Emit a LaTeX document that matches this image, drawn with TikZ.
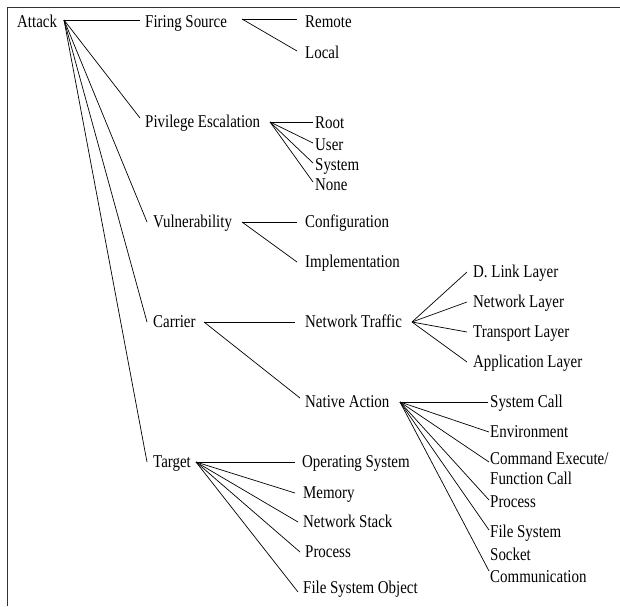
\documentclass[tikz,border=0pt]{standalone}
\usepackage{fontspec}
\setmainfont[FakeStretch=0.83]{Liberation Serif}
\begin{document}
\begin{tikzpicture}[x=1pt,y=-1pt,
  lbl/.style={anchor=base west,inner sep=0pt,font=\fontsize{18}{20}\selectfont},
  lbl2/.style={lbl,align=left},
  link/.style={line width=0.7pt,black},
  frame/.style={line width=1.3pt,black!80}]
\useasboundingbox (0,0) rectangle (620,606);
\draw[frame] (7.5,606) -- (7.5,7.5) -- (620,7.5);

% labels
\node[lbl] (attack) at (17,27) {Attack};
\node[lbl] (fs) at (145,27) {Firing Source};
\node[lbl] (remote) at (305,27) {Remote};
\node[lbl] (local) at (305,58) {Local};
\node[lbl] (pe) at (145,127) {Pivilege Escalation};
\node[lbl] (root) at (315,128) {Root};
\node[lbl] (user) at (315,150) {User};
\node[lbl] (system) at (315,170) {System};
\node[lbl] (none) at (315,190) {None};
\node[lbl] (vuln) at (153,227) {Vulnerability};
\node[lbl] (config) at (305,227) {Configuration};
\node[lbl] (impl) at (305,267) {Implementation};
\node[lbl] (carrier) at (153,327) {Carrier};
\node[lbl] (nt) at (305,327) {Network Traffic};
\node[lbl] (dl) at (473,277) {D. Link Layer};
\node[lbl] (nl) at (473,307) {Network Layer};
\node[lbl] (tl) at (473,337) {Transport Layer};
\node[lbl] (al) at (473,367) {Application Layer};
\node[lbl] (na) at (305,407) {Native Action};
\node[lbl] (sc) at (490,407) {System Call};
\node[lbl] (env) at (490,437) {Environment};
\node[lbl2] (cmd) at (490,484) {Command Execute/\\Function Call};
\node[lbl] (proc) at (490,507) {Process};
\node[lbl] (fsys) at (490,537) {File System};
\node[lbl2] (sock) at (490,582) {Socket\\[2pt]Communication};
\node[lbl] (target) at (153,467) {Target};
\node[lbl] (os) at (302,467) {Operating System};
\node[lbl] (mem) at (303,498) {Memory};
\node[lbl] (ns) at (303,527) {Network Stack};
\node[lbl] (tproc) at (305,557) {Process};
\node[lbl] (fso) at (303,593) {File System Object};

% fan origins
\coordinate (attack-o) at (64,20);
\coordinate (fs-o) at (242,19);
\coordinate (pe-o) at (270,122);
\coordinate (vuln-o) at (242,222);
\coordinate (carrier-o) at (204,322);
\coordinate (nt-o) at (412,322);
\coordinate (na-o) at (400,402);
\coordinate (target-o) at (196,462);

% line ends
\coordinate (fs-i) at (140,20);
\coordinate (pe-i) at (140,118);
\coordinate (vuln-i) at (147,222);
\coordinate (carrier-i) at (147,322);
\coordinate (target-i) at (147,462);
\coordinate (remote-i) at (297,19);
\coordinate (local-i) at (297,51);
\coordinate (root-i) at (313,122);
\coordinate (user-i) at (313,143);
\coordinate (system-i) at (313,163);
\coordinate (none-i) at (313,182);
\coordinate (config-i) at (297,222);
\coordinate (impl-i) at (297,262);
\coordinate (nt-i) at (295,322);
\coordinate (na-i) at (300,398);
\coordinate (dl-i) at (467,272);
\coordinate (nl-i) at (467,302);
\coordinate (tl-i) at (467,332);
\coordinate (al-i) at (467,362);
\coordinate (sc-i) at (488,402);
\coordinate (env-i) at (489,432);
\coordinate (cmd-i) at (489,462);
\coordinate (proc-i) at (489,500);
\coordinate (fsys-i) at (489,530);
\coordinate (sock-i) at (489,571);
\coordinate (os-i) at (295,462);
\coordinate (mem-i) at (295,493);
\coordinate (ns-i) at (298,522);
\coordinate (tproc-i) at (300,552);
\coordinate (fso-i) at (298,592);

% connectors
\foreach \c in {fs,pe,vuln,carrier,target} \draw[link] (attack-o) -- (\c-i);
\foreach \c in {remote,local} \draw[link] (fs-o) -- (\c-i);
\foreach \c in {root,user,system,none} \draw[link] (pe-o) -- (\c-i);
\foreach \c in {config,impl} \draw[link] (vuln-o) -- (\c-i);
\foreach \c in {nt,na} \draw[link] (carrier-o) -- (\c-i);
\foreach \c in {dl,nl,tl,al} \draw[link] (nt-o) -- (\c-i);
\foreach \c in {sc,env,cmd,proc,fsys,sock} \draw[link] (na-o) -- (\c-i);
\foreach \c in {os,mem,ns,tproc,fso} \draw[link] (target-o) -- (\c-i);
\end{tikzpicture}
\end{document}
